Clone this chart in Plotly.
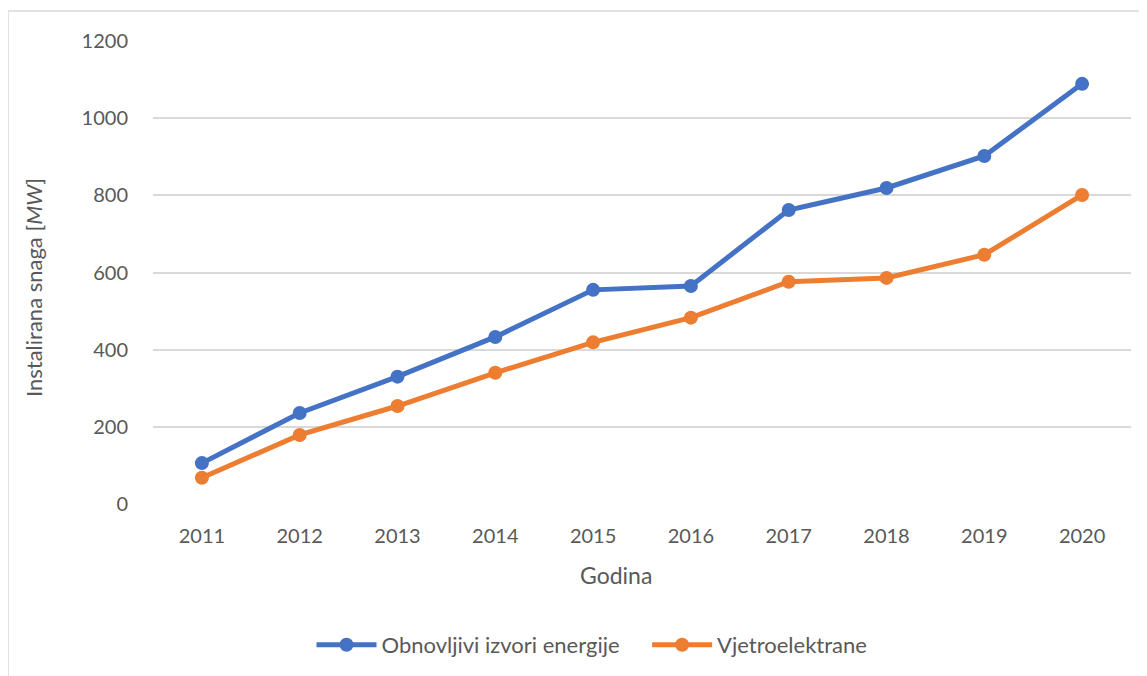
import plotly.graph_objects as go

years = ["2011", "2012", "2013", "2014", "2015", "2016", "2017", "2018", "2019", "2020"]
obnovljivi = [106, 236, 330, 433, 555, 565, 762, 819, 902, 1089]
vjetro = [68, 179, 254, 340, 419, 483, 576, 586, 646, 801]
y_ticks = [0, 200, 400, 600, 800, 1000, 1200]

font = "Lato, 'Open Sans', sans-serif"
txt = "#595959"

fig = go.Figure()
fig.add_trace(go.Scatter(x=years, y=obnovljivi, mode="lines+markers",
                         name="Obnovljivi izvori energije\u00a0\u00a0\u00a0\u00a0",
                         line=dict(color="#4472C4", width=5),
                         marker=dict(color="#4472C4", size=14)))
fig.add_trace(go.Scatter(x=years, y=vjetro, mode="lines+markers",
                         name="Vjetroelektrane",
                         line=dict(color="#ED7D31", width=5),
                         marker=dict(color="#ED7D31", size=14)))

# page body has 8px margin
W, H = 1139, 668
ml, mr, mt, mb = 145, 16, 33, 172
pw, ph = W - ml - mr, H - mt - mb
off = 8


def px(xp):
    return (xp - off - ml) / pw


def py(yp):
    return (H - mb - (yp - off)) / ph


fig.update_layout(
    width=W, height=H,
    margin=dict(l=ml, r=mr, t=mt, b=mb, autoexpand=False),
    paper_bgcolor="white", plot_bgcolor="white",
    font=dict(family=font, color=txt, size=20),
    showlegend=True,
    legend=dict(orientation="h", x=px(592), xanchor="center",
                y=py(645), yanchor="middle",
                font=dict(size=22, color=txt), itemwidth=60,
                tracegroupgap=0),
    xaxis=dict(type="category", range=[-0.5, 9.5], showgrid=False,
               showline=False, zeroline=False,
               ticks="outside", ticklen=14, tickcolor="rgba(0,0,0,0)",
               tickfont=dict(size=20, color=txt)),
    yaxis=dict(range=[0, 1200], tickvals=y_ticks, showgrid=True,
               gridcolor="#d9d9d9", gridwidth=1.5, zeroline=False, showline=False,
               ticks="outside", ticklen=20, tickcolor="rgba(0,0,0,0)",
               tickfont=dict(size=20, color=txt)),
    annotations=[
        dict(text="Godina", xref="paper", yref="paper", x=px(616), y=py(575),
             xanchor="center", yanchor="middle", showarrow=False,
             font=dict(size=23, color=txt)),
        dict(text="Instalirana snaga [<i>MW</i>]", xref="paper", yref="paper",
             x=px(33), y=py(288), xanchor="center", yanchor="middle",
             textangle=-90, showarrow=False, font=dict(size=22, color=txt)),
    ],
    shapes=[dict(type="rect", xref="paper", yref="paper",
                 x0=px(8), x1=px(W + 40),
                 y0=py(H + 40), y1=py(11),
                 line=dict(color="#d9d9d9", width=1.5), layer="below")],
)

fig.write_html("out.html")
